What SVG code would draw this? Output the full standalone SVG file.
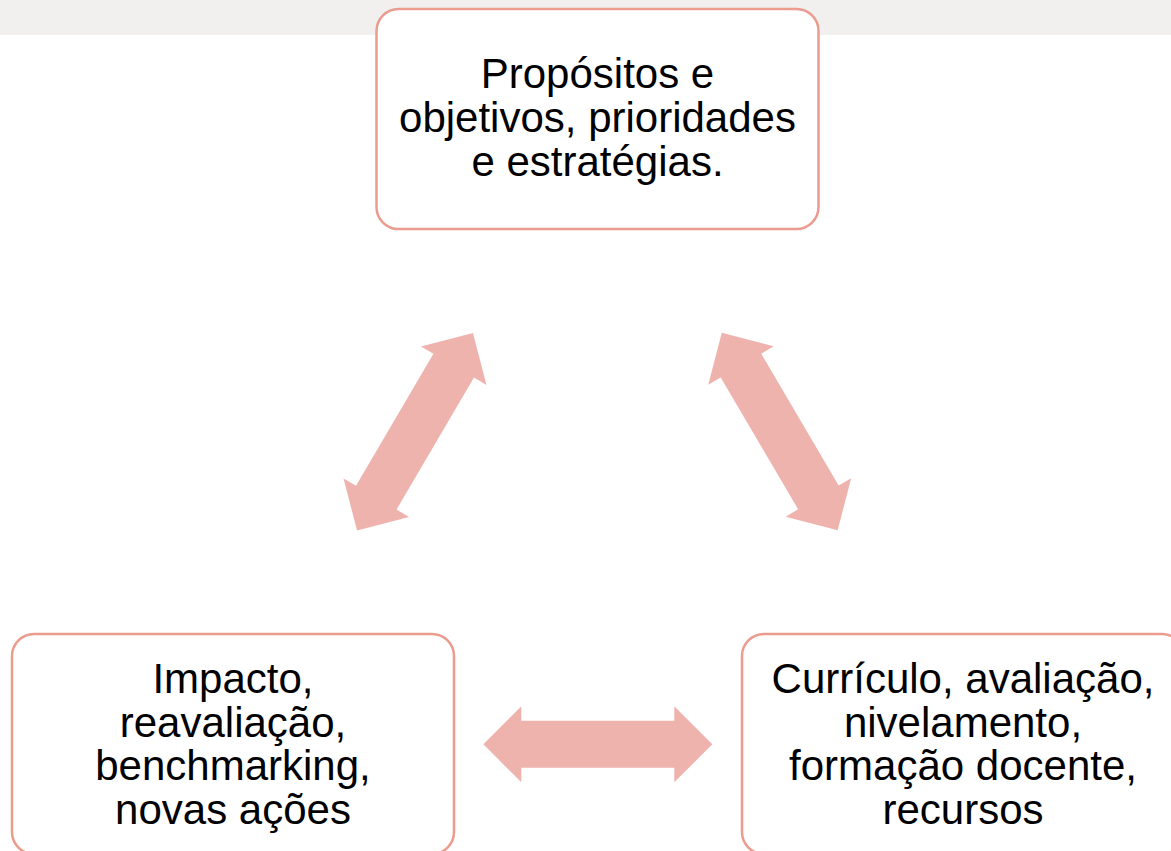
<svg xmlns="http://www.w3.org/2000/svg" xmlns:xlink="http://www.w3.org/1999/xlink" width="1171" height="851" viewBox="0 0 1171 851">
<style>
.box{fill:#ffffff;stroke:#ec9b8f;stroke-width:2.5}
.lbl{font-family:"Liberation Sans",Arial,sans-serif;font-size:42px;fill:#000000;text-anchor:middle}
.arr{fill:#efb3ae}
</style>
<defs>
<path id="dblArrow" d="M -114.5,0 L -76.5,-38 L -76.5,-23.5 L 76.5,-23.5 L 76.5,-38 L 114.5,0 L 76.5,38 L 76.5,23.5 L -76.5,23.5 L -76.5,38 Z"/>
</defs>
<rect x="0" y="0" width="1171" height="851" fill="#ffffff"/>
<rect x="0" y="0" width="1171" height="35" fill="#f1f0ee"/>
<g id="connectors">
<use xlink:href="#dblArrow" href="#dblArrow" class="arr" transform="translate(415,431.7) rotate(-59.6)"/>
<use xlink:href="#dblArrow" href="#dblArrow" class="arr" transform="translate(779.7,431.5) rotate(59.6)"/>
<use xlink:href="#dblArrow" href="#dblArrow" class="arr" transform="translate(597.8,744.3)"/>
</g>
<g id="node-top">
<rect class="box" x="376.5" y="9" width="442" height="220" rx="22"/>
<text class="lbl"><tspan x="597.5" y="88">Propósitos e</tspan><tspan x="597.5" y="132">objetivos, prioridades</tspan><tspan x="597.5" y="176">e estratégias.</tspan></text>
</g>
<g id="node-left">
<rect class="box" x="12" y="634" width="442" height="220" rx="22"/>
<text class="lbl"><tspan x="233" y="693">Impacto,</tspan><tspan x="233" y="736.5">reavaliação,</tspan><tspan x="233" y="780">benchmarking,</tspan><tspan x="233" y="823.5">novas ações</tspan></text>
</g>
<g id="node-right">
<rect class="box" x="742" y="634" width="442" height="220" rx="22"/>
<text class="lbl"><tspan x="963" y="693">Currículo, avaliação,</tspan><tspan x="963" y="736.5">nivelamento,</tspan><tspan x="963" y="780">formação docente,</tspan><tspan x="963" y="823.5">recursos</tspan></text>
</g>
</svg>
